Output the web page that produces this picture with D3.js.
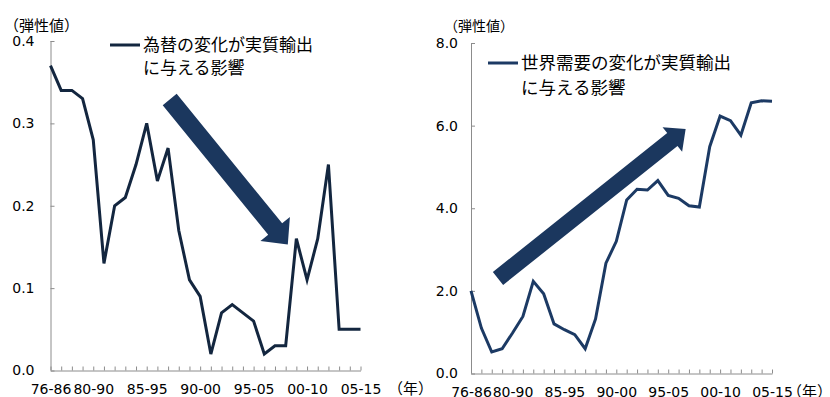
<!DOCTYPE html>
<html>
<head>
<meta charset="utf-8">
<script src="https://cdn.jsdelivr.net/npm/d3@7"></script>
<style>
  body { margin: 0; background: #fff; }
  svg { display: block; font-family: "DejaVu Sans", sans-serif; }
  .axis path, .axis line { stroke: #8c8c8c; }
  .axis text { fill: #000; font-family: "DejaVu Sans", sans-serif; }
  .jp { font-family: "Noto Sans CJK JP", sans-serif; fill: #000; }
</style>
</head>
<body>
<svg id="chart" width="830" height="397"></svg>
<script>
// 10-year windows, one point per start year
const categories = ["76-86","77-87","78-88","79-89","80-90","81-91","82-92","83-93","84-94","85-95",
  "86-96","87-97","88-98","89-99","90-00","91-01","92-02","93-03","94-04","95-05",
  "96-06","97-07","98-08","99-09","00-10","01-11","02-12","03-13","04-14","05-15"];
const tickLabels = ["76-86","80-90","85-95","90-00","95-05","00-10","05-15"];

// left: 為替 elasticity
const fxValues = [0.37,0.34,0.34,0.33,0.28,0.13,0.20,0.21,0.25,0.30,
  0.23,0.27,0.17,0.11,0.09,0.02,0.07,0.08,0.07,0.06,
  0.02,0.03,0.03,0.16,0.11,0.16,0.25,0.05,0.05,0.05];
const fxTicks = [0, 0.1, 0.2, 0.3, 0.4];
const fxLegend = ["為替の変化が実質輸出", "に与える影響"];
const fxArrow = [[11.15, 0.329], [22.2, 0.153]]; // [index, value] start -> tip

// right: 世界需要 elasticity
const demandValues = [2.00,1.10,0.52,0.60,0.98,1.38,2.23,1.93,1.20,1.06,
  0.94,0.60,1.32,2.67,3.20,4.20,4.46,4.44,4.67,4.31,
  4.24,4.06,4.03,5.49,6.23,6.12,5.77,6.55,6.60,6.59];
const demandTicks = [0, 2, 4, 6, 8];
const demandLegend = ["世界需要の変化が実質輸出", "に与える影響"];
const demandArrow = [[2.6, 2.30], [20.68, 5.92]];

const svg = d3.select("#chart");

const drawPanel = p => {
  const x = d3.scalePoint().domain(categories).range([p.x0, p.x1]);
  const y = d3.scaleLinear().domain([0, p.yMax]).range([p.yBottom, p.yTop]);
  const g = svg.append("g");

  g.append("g")
    .attr("class", "axis")
    .attr("transform", `translate(0,${p.yBottom})`)
    .call(d3.axisBottom(x).tickSizeInner(-4).tickSizeOuter(0).tickPadding(13.4)
      .tickFormat(d => tickLabels.includes(d) ? d : ""))
    .call(a => a.selectAll("text").attr("font-size", 14));

  g.append("g")
    .attr("class", "axis")
    .attr("transform", `translate(${p.x0},0)`)
    .call(d3.axisLeft(y).tickValues(p.ticks).tickFormat(d3.format(".1f"))
      .tickSizeInner(-4).tickSizeOuter(0).tickPadding(p.yPad))
    .call(a => a.select(".domain").attr("d", `M0.5,${p.yTop}V${p.yBottom}`))
    .call(a => a.selectAll("text").attr("font-size", 14));

  g.append("text").attr("class", "jp").attr("x", p.unitX).attr("y", p.unitY)
    .attr("font-size", p.unitSize).text("（弾性値）");
  g.append("text").attr("class", "jp").attr("x", p.yearX).attr("y", p.yBottom + 23.5)
    .attr("font-size", 15).text("（年）");

  // big arrow annotation
  const [s, t] = p.arrow.map(d => [x(categories[0]) + d[0] * x.step(), y(d[1])]);
  const dx = t[0] - s[0], dy = t[1] - s[1], len = Math.hypot(dx, dy);
  const ux = dx / len, uy = dy / len, nx = -uy, ny = ux;
  const bx = t[0] - ux * p.headLen, by = t[1] - uy * p.headLen;
  const pts = [
    [s[0] + nx * p.shaftW / 2, s[1] + ny * p.shaftW / 2],
    [bx + nx * p.shaftW / 2, by + ny * p.shaftW / 2],
    [bx + nx * p.headW, by + ny * p.headW],
    t,
    [bx - nx * p.headW, by - ny * p.headW],
    [bx - nx * p.shaftW / 2, by - ny * p.shaftW / 2],
    [s[0] - nx * p.shaftW / 2, s[1] - ny * p.shaftW / 2]
  ];
  g.append("path").attr("d", "M" + pts.map(q => q.join(",")).join("L") + "Z")
    .attr("fill", "#1b375e");

  const line = d3.line().x((d, i) => x(categories[i])).y(d => y(d));
  g.append("path").datum(p.values)
    .attr("d", line)
    .attr("fill", "none")
    .attr("stroke", p.color)
    .attr("stroke-width", 3)
    .attr("stroke-linejoin", "miter");

  // legend
  g.append("line").attr("x1", p.legX).attr("x2", p.legX + 30)
    .attr("y1", p.legY).attr("y2", p.legY)
    .attr("stroke", p.color).attr("stroke-width", 3);
  p.legend.forEach((txt, i) => {
    g.append("text").attr("class", "jp").attr("x", p.legX + 33).attr("y", p.legY + i * p.legGap)
      .attr("dy", "0.36em").attr("font-size", p.legSize).text(txt);
  });
};

drawPanel({
  values: fxValues, ticks: fxTicks, yMax: 0.4, legend: fxLegend, arrow: fxArrow,
  x0: 50.5, x1: 360.5, yTop: 41, yBottom: 370.5, yPad: 16,
  color: "#13263f", unitX: 4, unitY: 31, unitSize: 15, yearX: 388,
  legX: 110, legY: 45, legGap: 23, legSize: 17,
  shaftW: 18, headW: 19, headLen: 20
});

drawPanel({
  values: demandValues, ticks: demandTicks, yMax: 8, legend: demandLegend, arrow: demandArrow,
  x0: 471, x1: 772, yTop: 43, yBottom: 373.5, yPad: 13,
  color: "#1c3a64", unitX: 444, unitY: 31, unitSize: 14, yearX: 787,
  legX: 488, legY: 63, legGap: 25, legSize: 17.5,
  shaftW: 16.5, headW: 15.7, headLen: 17
});
</script>
</body>
</html>
